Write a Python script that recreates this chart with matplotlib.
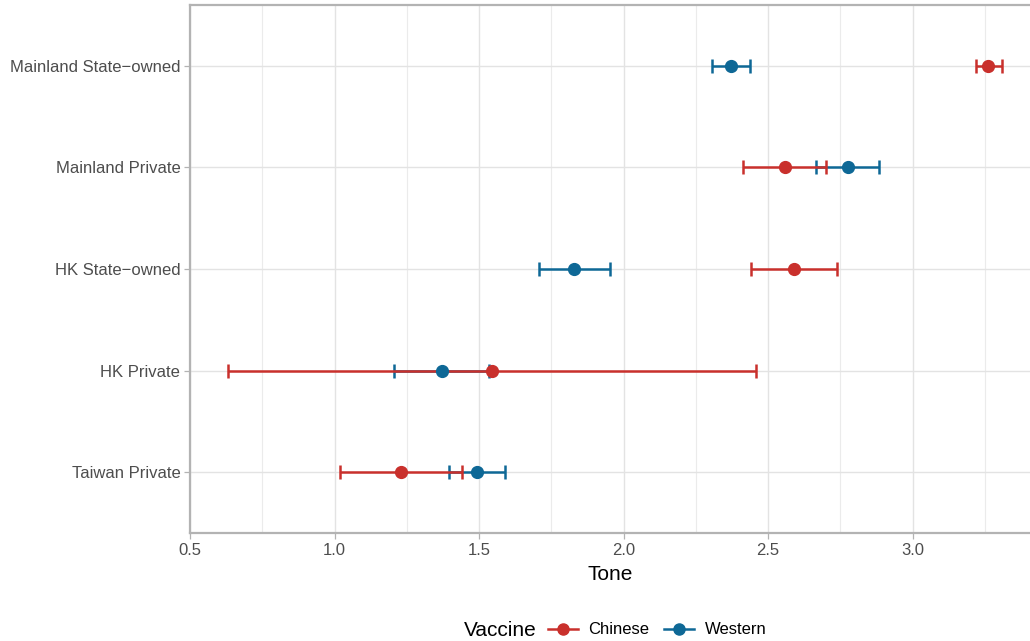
import matplotlib.pyplot as plt
from matplotlib.lines import Line2D

plt.rcParams['font.family'] = ['Liberation Sans', 'DejaVu Sans']

# categories (bottom to top)
groups = ['Taiwan Private', 'HK Private', 'HK State\u2212owned',
          'Mainland Private', 'Mainland State\u2212owned']

# Chinese vaccine: estimate, lower, upper
chinese_est = [1.230, 1.546, 2.589, 2.557, 3.261]
chinese_low = [1.019, 0.631, 2.440, 2.414, 3.218]
chinese_high = [1.441, 2.459, 2.740, 2.700, 3.308]

# Western vaccine: estimate, lower, upper
western_est = [1.493, 1.372, 1.830, 2.775, 2.370]
western_low = [1.395, 1.207, 1.706, 2.667, 2.305]
western_high = [1.589, 1.536, 1.954, 2.883, 2.439]

red = '#C9302C'
blue = '#0E6896'

fig = plt.figure(figsize=(10.30, 6.41), dpi=100)
ax = fig.add_axes([190 / 1030, 1 - 533 / 641, 840 / 1030, 528 / 641])

ypos = list(range(1, len(groups) + 1))


def draw(est, low, high, color):
    err = [[e - l for e, l in zip(est, low)], [h - e for e, h in zip(est, high)]]
    ax.errorbar(est, ypos, xerr=err, fmt='o', color=color, ecolor=color,
                markersize=8.5, elinewidth=1.8, capsize=5, capthick=1.8,
                zorder=3)


draw(western_est, western_low, western_high, blue)
draw(chinese_est, chinese_low, chinese_high, red)

ax.set_xlim(0.5, 3.406)
ax.set_ylim(0.4, 5.6)
ax.set_xticks([0.5, 1.0, 1.5, 2.0, 2.5, 3.0])
ax.set_xticks([0.75, 1.25, 1.75, 2.25, 2.75, 3.25], minor=True)
ax.set_yticks(ypos)
ax.set_yticklabels(groups)

ax.grid(which='major', color='#E3E3E3', linewidth=1.0, zorder=0)
ax.grid(which='minor', axis='x', color='#EBEBEB', linewidth=0.8, zorder=0)
ax.set_axisbelow(True)

for s in ax.spines.values():
    s.set_color('#B3B3B3')
    s.set_linewidth(1.6)
ax.spines['right'].set_visible(False)

ax.tick_params(which='major', length=4, width=0.9, color='#B3B3B3',
               labelsize=12, labelcolor='#4D4D4D', pad=3)
ax.tick_params(which='minor', length=0)

ax.set_xlabel('Tone', fontsize=15, color='black', labelpad=5)

# legend at the bottom: title then two keys in one row
handles = [Line2D([0], [0], color=red, marker='o', lw=1.8, markersize=8),
           Line2D([0], [0], color=blue, marker='o', lw=1.8, markersize=8)]
fig.text(500 / 1030, 1 - 630 / 641, 'Vaccine', fontsize=15, ha='center',
         va='center', color='black')
fig.legend(handles, ['Chinese', 'Western'], loc='center',
           bbox_to_anchor=(657 / 1030, 1 - 630 / 641), ncol=2, frameon=False,
           fontsize=12, handlelength=1.8, handletextpad=0.66,
           columnspacing=0.85, borderaxespad=0, borderpad=0)

fig.savefig('out.png', dpi=100)
